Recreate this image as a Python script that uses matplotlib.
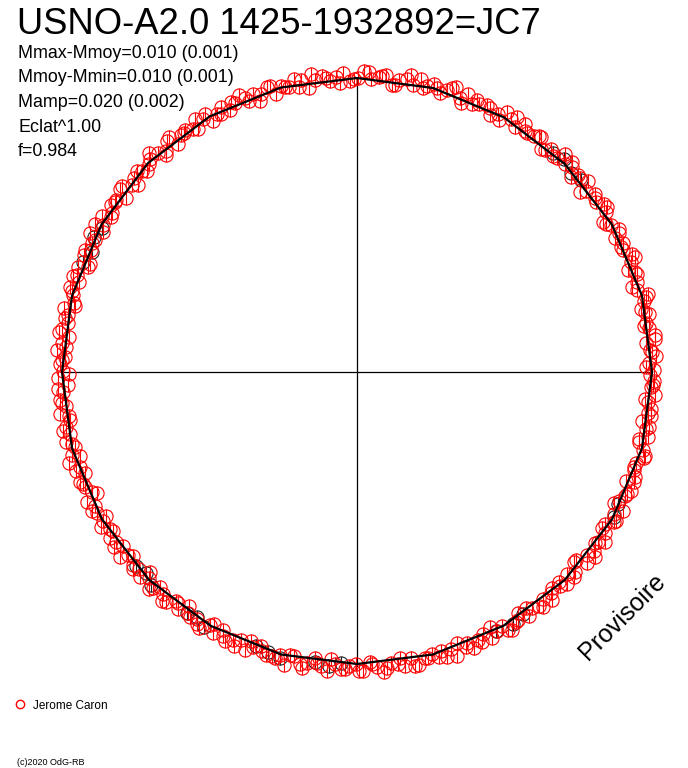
import numpy as np
import matplotlib
matplotlib.use("Agg")
import matplotlib.pyplot as plt
from matplotlib.path import Path

plt.rcParams['font.family'] = ['Liberation Sans', 'DejaVu Sans']

title = "USNO-A2.0 1425-1932892=JC7"
stats = ["Mmax-Mmoy=0.010 (0.001)", "Mmoy-Mmin=0.010 (0.001)",
         "Mamp=0.020 (0.002)", "Eclat^1.00", "f=0.984"]
observer = "Jerome Caron"

# phase angle (deg) of each observation and radial residual
red_phase = [
    0.4, 1.7, 3.1, 4.2, 5.8, 7.0, 8.5, 9.6, 11.2, 12.5,
    13.9, 15.1, 16.4, 17.9, 19.2, 20.6, 21.8, 23.3, 24.7, 25.9,
    27.4, 28.6, 30.1, 31.5, 32.7, 34.2, 35.4, 36.9, 38.3, 39.5,
    41.0, 42.3, 43.6, 45.1, 46.4, 47.8, 49.0, 50.5, 51.9, 53.1,
    54.6, 55.9, 57.2, 58.7, 60.0, 61.4, 62.6, 64.1, 65.5, 66.8,
    68.2, 69.5, 70.9, 72.3, 73.5, 75.0, 76.3, 77.7, 79.0, 80.4,
    81.8, 83.1, 84.5, 85.8, 87.2, 88.6, 89.9, 91.3, 92.6, 94.0,
    95.4, 96.7, 98.1, 99.5, 100.8, 102.2, 103.5, 104.9, 106.3, 107.6,
    109.0, 110.4, 111.7, 113.1, 114.4, 115.8, 117.2, 118.5, 119.9, 121.3,
    122.6, 124.0, 125.3, 126.7, 128.1, 129.4, 130.8, 132.2, 133.5, 134.9,
    136.2, 137.6, 139.0, 140.3, 141.7, 143.1, 144.4, 145.8, 147.1, 148.5,
    149.9, 151.2, 152.6, 154.0, 155.3, 156.7, 158.0, 159.4, 160.8, 162.1,
    163.5, 164.9, 166.2, 167.6, 168.9, 170.3, 171.7, 173.0, 174.4, 175.8,
    177.1, 178.5, 179.8, 181.2, 182.6, 183.9, 185.3, 186.7, 188.0, 189.4,
    190.7, 192.1, 193.5, 194.8, 196.2, 197.6, 198.9, 200.3, 201.6, 203.0,
    204.4, 205.7, 207.1, 208.5, 209.8, 211.2, 212.5, 213.9, 215.3, 216.6,
    218.0, 219.4, 220.7, 222.1, 223.4, 224.8, 226.2, 227.5, 228.9, 230.3,
    231.6, 233.0, 234.3, 235.7, 237.1, 238.4, 239.8, 241.2, 242.5, 243.9,
    245.2, 246.6, 248.0, 249.3, 250.7, 252.1, 253.4, 254.8, 256.1, 257.5,
    258.9, 260.2, 261.6, 263.0, 264.3, 265.7, 267.0, 268.4, 269.8, 271.1,
    272.5, 273.9, 275.2, 276.6, 277.9, 279.3, 280.7, 282.0, 283.4, 284.8,
    286.1, 287.5, 288.8, 290.2, 291.6, 292.9, 294.3, 295.7, 297.0, 298.4,
    299.7, 301.1, 302.5, 303.8, 305.2, 306.6, 307.9, 309.3, 310.6, 312.0,
    313.4, 314.7, 316.1, 317.5, 318.8, 320.2, 321.5, 322.9, 324.3, 325.6,
    327.0, 328.4, 329.7, 331.1, 332.4, 333.8, 335.2, 336.5, 337.9, 339.3,
    340.6, 342.0, 343.3, 344.7, 346.1, 347.4, 348.8, 350.2, 351.5, 352.9,
    354.2, 355.6, 357.0, 358.3, 359.4,
    1.0, 3.8, 6.4, 9.1, 11.8, 14.5, 17.2, 19.8, 22.5, 25.3,
    28.0, 30.7, 33.4, 36.1, 38.9, 41.6, 44.3, 47.0, 49.7, 52.4,
    55.2, 57.9, 60.6, 63.3, 66.1, 68.8, 71.5, 74.2, 76.9, 79.7,
    82.4, 85.1, 87.8, 90.6, 93.3, 96.0, 98.7, 101.5, 104.2, 106.9,
    109.6, 112.3, 115.1, 117.8, 120.5, 123.2, 126.0, 128.7, 131.4, 134.1,
    136.9, 139.6, 142.3, 145.0, 147.8, 150.5, 153.2, 155.9, 158.6, 161.4,
    164.1, 166.8, 169.5, 172.3, 175.0, 177.7, 180.4, 183.2, 185.9, 188.6,
    191.3, 194.1, 196.8, 199.5, 202.2, 204.9, 207.7, 210.4, 213.1, 215.8,
    218.6, 221.3, 224.0, 226.7, 229.5, 232.2, 234.9, 237.6, 240.4, 243.1,
    245.8, 248.5, 251.2, 254.0, 256.7, 259.4, 262.1, 264.9, 267.6, 270.3,
    273.0, 275.8, 278.5, 281.2, 283.9, 286.7, 289.4, 292.1, 294.8, 297.5,
    300.3, 303.0, 305.7, 308.4, 311.2, 313.9, 316.6, 319.3, 322.1, 324.8,
    327.5, 330.2, 333.0, 335.7, 338.4, 341.1, 343.8, 346.6, 349.3, 352.0,
    354.7, 357.5]
red_resid = [
    3, -2, 5, 0, -4, 6, 1, -1, 4, -3,
    2, 7, -2, 0, 3, -5, 1, 5, -1, 2,
    -3, 4, 0, -6, 2, 5, -1, 3, -2, 6,
    1, -4, 3, 0, 7, -2, 2, -5, 4, 1,
    -1, 5, -3, 2, 6, 0, -4, 3, 1, -2,
    5, -1, 8, 2, -3, 4, 0, 6, -2, 3,
    1, -5, 4, 2, -1, 7, 0, -3, 5, 2,
    -2, 4, 1, -6, 3, 6, -1, 2, -4, 5,
    0, 3, -2, 7, 1, -3, 4, 0, -5, 2,
    6, -1, 3, 1, -4, 5, -2, 2, 8, 0,
    -3, 4, 1, -1, 6, -5, 2, 3, -2, 5,
    0, -4, 7, 1, -1, 3, -6, 4, 2, -2,
    5, 0, -3, 6, 1, -1, 4, -4, 2, 7,
    -2, 3, 0, 5, -5, 1, 4, -1, 6, -3,
    2, 0, 5, -2, 3, 8, -1, -4, 4, 1,
    -3, 6, 0, 2, -5, 5, -1, 3, 1, -2,
    7, -4, 2, 0, 4, -1, 6, -3, 1, 5,
    -2, 3, -6, 2, 0, 7, -1, 4, -3, 5,
    1, -2, 6, 0, -4, 3, 2, -1, 8, -3,
    4, 1, -5, 2, 6, -1, 3, 0, -2, 5,
    -4, 2, 7, -1, 1, 4, -3, 6, 0, -2,
    3, 5, -1, -5, 2, 6, 0, -3, 4, 1,
    -2, 7, 2, -4, 5, 0, 3, -1, 6, -3,
    1, 4, -2, 2, -6, 5, 0, 3, -1, 7,
    2, -3, 4, 0, 6, -2, 1, 5, -4, 3,
    0, -1, 6, 2, -3, 4, 1, -5, 3, 2,
    -2, 5, 0, 3, -1,
    -5, 2, 6, -3, 0, 4, -6, 1, 7, -2,
    3, -4, 5, 1, -7, 2, 6, -1, -3, 4,
    0, 7, -5, 2, 3, -6, 5, 1, -2, 8,
    -4, 3, 6, -1, -5, 2, 7, -3, 0, 5,
    -6, 2, 4, -2, 6, -4, 1, 7, -5, 3,
    0, -6, 5, 2, -3, 7, -1, 4, -5, 6,
    2, -4, 3, 7, -2, 1, -6, 5, 3, -3,
    6, 0, -5, 4, 2, -7, 5, 1, -3, 6,
    -1, 4, -6, 3, 7, -2, 0, 5, -4, 2,
    6, -5, 1, 4, -3, 7, 0, -6, 3, 5,
    -2, 4, -5, 6, 1, -3, 7, -1, 3, -6,
    5, 2, -4, 6, 0, -2, 4, -5, 7, 1,
    -3, 5, -6, 2, 4, -1, 6, -4, 3, 0,
    -5, 2]

black_phase = [40.5, 43.0, 45.8, 48.2, 150.5, 152.8, 155.6, 158.1,
               221.3, 223.6, 226.0, 234.8, 236.9, 239.1, 249.7, 252.4,
               255.0, 261.8, 264.5, 266.9, 298.2, 301.7, 304.4, 330.6, 333.2]
black_resid = [1, -2, 3, 0, -1, 2, -3, 1, 0, -2, 2, 1, -1, 3, -2, 0,
               2, -1, 1, -3, 0, 2, -1, 1, -2]

curve_phase = [0, 15, 30, 45, 60, 75, 90, 105, 120, 135, 150, 165, 180,
               195, 210, 225, 240, 255, 270, 285, 300, 315, 330, 345, 360]
curve_radius = [295, 295, 294.5, 294, 294, 294, 294, 294.5, 295, 295.5,
                295, 295, 295, 295, 294.5, 294, 293, 292.5, 292, 292.5,
                293, 294, 294.5, 295, 295]
base_radius = 294

W, H = 688, 768
fig = plt.figure(figsize=(W / 100, H / 100), dpi=100)
fig.patch.set_facecolor('white')

cx, cy, rmax = 357, 372, 310
ax = fig.add_axes([(cx - rmax) / W, (H - cy - rmax) / H, 2 * rmax / W, 2 * rmax / H],
                  projection='polar')
ax.set_ylim(0, rmax)
ax.set_axis_off()

# cross lines
for th in (0, 90, 180, 270):
    ax.plot(np.deg2rad([th, th]), [0, base_radius], color='black', lw=0.9, clip_on=False)

# marker: circle with vertical bar
circ = Path.unit_circle()
verts = np.concatenate([circ.vertices, [[0, -1], [0, 1]]])
codes = np.concatenate([circ.codes, [Path.MOVETO, Path.LINETO]])
mk = Path(verts, codes)

bt = np.deg2rad(black_phase)
br = base_radius + np.array(black_resid, dtype=float)
ax.plot(bt, br, ls='none', marker=mk, ms=9.5, mfc='none', mec='#222222', mew=0.8,
        clip_on=False)

rt = np.deg2rad(red_phase)
rr = base_radius + np.array(red_resid, dtype=float)
ax.plot(rt, rr, ls='none', marker=mk, ms=9.5, mfc='none', mec='#ff0000', mew=0.8,
        clip_on=False)

ax.plot(np.deg2rad(curve_phase), curve_radius, color='black', lw=1.6, clip_on=False)


def px(x, y):
    return x / W, 1 - y / H


fig.text(*px(17, 34), title, fontsize=26.2, va='baseline', ha='left')
for i, s in enumerate(stats):
    fig.text(*px(18, 58 + 24.5 * i), s, fontsize=12.9, va='baseline', ha='left')

fig.text(*px(622, 617), "Provisoire", fontsize=18, rotation=45,
         ha='center', va='center')

# legend
fig.add_artist(plt.Line2D([20 / W], [1 - 704 / H], marker='o', ms=6, mfc='none',
                          mec='#ff0000', mew=1.0, ls='none', transform=fig.transFigure))
fig.text(*px(33, 709), observer, fontsize=8.5, va='baseline', ha='left')
fig.text(*px(17, 765), "(c)2020 OdG-RB", fontsize=6.5, va='baseline', ha='left')

fig.savefig("out.png", dpi=100, facecolor='white')
